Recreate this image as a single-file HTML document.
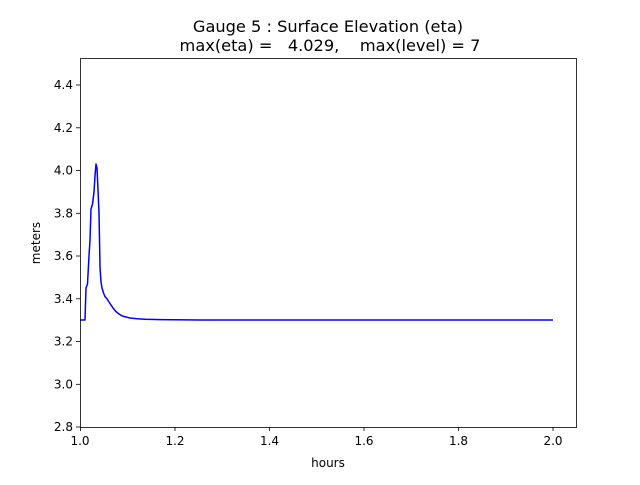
<!DOCTYPE html>
<html><head><meta charset="utf-8"><style>
html,body{margin:0;padding:0;background:#fff;}
svg text{font-family:"DejaVu Sans","Liberation Sans",sans-serif;fill:#000;}
</style></head><body>
<svg width="640" height="480" viewBox="0 0 640 480" xmlns="http://www.w3.org/2000/svg">
<rect width="640" height="480" fill="#fff"/>
<text x="328" y="32" font-size="16.2" text-anchor="middle">Gauge 5 : Surface Elevation (eta)</text>
<text x="330" y="51" font-size="16.2" text-anchor="middle" xml:space="preserve">max(eta) =   4.029,    max(level) = 7</text>
<polyline fill="none" stroke="#0000ff" stroke-width="1.5" stroke-linejoin="round" points="80,320 85,320 86,288 87.5,284 89,256 90,240 91,209 92.5,204 94,192 95,176 96,164 97,168 98,190 99,213 99.7,250 100,267 101,282 102,288 103.5,293 105,296.6 107,298.8 109,302 111,305 113,308 116,311.6 119,314 122,315.9 126,317 130,318 137,318.8 145,319.2 160,319.6 200,320 553,320"/>
<rect x="80.5" y="58.5" width="496" height="369" fill="none" stroke="#000" stroke-width="0.8"/>
<g stroke="#000" stroke-width="0.8">
<line x1="80.5" y1="427" x2="80.5" y2="431"/>
<line x1="175" y1="427" x2="175" y2="431"/>
<line x1="269.5" y1="427" x2="269.5" y2="431"/>
<line x1="364" y1="427" x2="364" y2="431"/>
<line x1="458.5" y1="427" x2="458.5" y2="431"/>
<line x1="553" y1="427" x2="553" y2="431"/>
<line x1="76" y1="427" x2="80" y2="427"/>
<line x1="76" y1="384.3" x2="80" y2="384.3"/>
<line x1="76" y1="341.5" x2="80" y2="341.5"/>
<line x1="76" y1="298.8" x2="80" y2="298.8"/>
<line x1="76" y1="256" x2="80" y2="256"/>
<line x1="76" y1="213.3" x2="80" y2="213.3"/>
<line x1="76" y1="170.5" x2="80" y2="170.5"/>
<line x1="76" y1="127.8" x2="80" y2="127.8"/>
<line x1="76" y1="85" x2="80" y2="85"/>
</g>
<g font-size="12" text-anchor="middle">
<text x="80" y="445">1.0</text>
<text x="175" y="445">1.2</text>
<text x="269.5" y="445">1.4</text>
<text x="364" y="445">1.6</text>
<text x="458.5" y="445">1.8</text>
<text x="553" y="445">2.0</text>
<text x="328" y="467">hours</text>
</g>
<g font-size="12" text-anchor="end">
<text x="73" y="431">2.8</text>
<text x="73" y="388.5">3.0</text>
<text x="73" y="345.5">3.2</text>
<text x="73" y="303">3.4</text>
<text x="73" y="260">3.6</text>
<text x="73" y="217.5">3.8</text>
<text x="73" y="174.5">4.0</text>
<text x="73" y="132">4.2</text>
<text x="73" y="89">4.4</text>
</g>
<text x="40" y="243" font-size="12" text-anchor="middle" transform="rotate(-90 40 243)">meters</text>
</svg>
</body></html>
